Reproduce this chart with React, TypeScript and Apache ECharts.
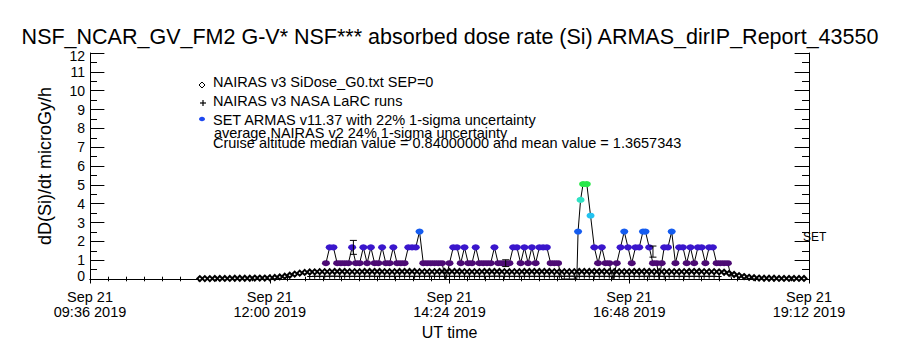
import React, { useEffect, useRef } from "react";
import * as echarts from "echarts";

// ---------- texts ----------
const titleText =
  "NSF_NCAR_GV_FM2 G-V* NSF*** absorbed dose rate (Si) ARMAS_dirIP_Report_43550";
const yAxisTitle = "dD(Si)/dt microGy/h";
const xAxisTitle = "UT time";
const rightLabel = "SET";
const legendLabels = [
  "NAIRAS v3 SiDose_G0.txt SEP=0",
  "NAIRAS v3 NASA LaRC runs",
  "SET ARMAS v11.37 with 22% 1-sigma uncertainty",
];
const noteLines = [
  "average NAIRAS v2 24% 1-sigma uncertainty",
  "Cruise altitude median value = 0.84000000 and mean value = 1.3657343",
];

// ---------- axes (minutes of day) ----------
const xTickValues = [576, 720, 864, 1008, 1152];
const xTickLabels = [
  "Sep 21\n09:36 2019",
  "Sep 21\n12:00 2019",
  "Sep 21\n14:24 2019",
  "Sep 21\n16:48 2019",
  "Sep 21\n19:12 2019",
];

// ---------- NAIRAS model runs (minutes of day) ----------
const nairasTime = [
  664, 668, 672, 676, 680, 684, 688, 692, 696, 700,
  704, 708, 712, 716, 720, 724, 728, 732, 736, 740,
  744, 748, 752, 756, 760, 764, 768, 772, 776, 780,
  784, 788, 792, 796, 800, 804, 808, 812, 816, 820,
  824, 828, 832, 836, 840, 844, 848, 852, 856, 860,
  864, 868, 872, 876, 880, 884, 888, 892, 896, 900,
  904, 908, 912, 916, 920, 924, 928, 932, 936, 940,
  944, 948, 952, 956, 960, 964, 968, 972, 976, 980,
  984, 988, 992, 996, 1000, 1004, 1008, 1012, 1016, 1020,
  1024, 1028, 1032, 1036, 1040, 1044, 1048, 1052, 1056, 1060,
  1064, 1068, 1072, 1076, 1080, 1084, 1088, 1092, 1096, 1100,
  1104, 1108, 1112, 1116, 1120, 1124, 1128, 1132, 1136, 1140,
  1144, 1148,
];
const nairasSiDose = [
  0.02, 0.02, 0.02, 0.03, 0.03, 0.03, 0.03, 0.04, 0.04, 0.04,
  0.04, 0.05, 0.05, 0.05, 0.06, 0.08, 0.11, 0.15, 0.2, 0.26,
  0.31, 0.35, 0.37, 0.38, 0.39, 0.39, 0.39, 0.4, 0.4, 0.4,
  0.39, 0.39, 0.39, 0.4, 0.4, 0.4, 0.4, 0.39, 0.39, 0.39,
  0.4, 0.4, 0.4, 0.4, 0.39, 0.39, 0.39, 0.39, 0.4, 0.4,
  0.4, 0.4, 0.4, 0.39, 0.39, 0.39, 0.39, 0.4, 0.4, 0.4,
  0.4, 0.39, 0.39, 0.39, 0.39, 0.4, 0.4, 0.4, 0.4, 0.4,
  0.4, 0.39, 0.39, 0.39, 0.39, 0.39, 0.4, 0.4, 0.4, 0.4,
  0.4, 0.4, 0.39, 0.39, 0.39, 0.39, 0.39, 0.4, 0.4, 0.4,
  0.4, 0.39, 0.39, 0.39, 0.39, 0.39, 0.39, 0.39, 0.4, 0.4,
  0.4, 0.39, 0.39, 0.39, 0.38, 0.36, 0.3, 0.24, 0.18, 0.13,
  0.09, 0.07, 0.05, 0.04, 0.04, 0.04, 0.03, 0.03, 0.03, 0.03,
  0.03, 0.03,
];
const nairasLaRC = [
  null, null, null, null, null, null, null, null, null, null,
  null, null, null, null, null, null, null, null, null, null,
  null, null, 0.13, 0.14, 0.14, 0.14, 0.15, 0.15, 0.14, 0.14,
  0.14, 0.14, 0.14, 0.14, 0.15, 0.14, 0.14, 0.14, 0.14, 0.14,
  0.14, 0.14, 0.14, 0.14, 0.14, 0.14, 0.15, 0.14, 0.14, 0.14,
  0.14, 0.14, 0.14, 0.14, 0.14, 0.14, 0.14, 0.14, 0.14, 0.15,
  0.15, 0.14, 0.14, 0.14, 0.14, 0.14, 0.14, 0.14, 0.14, 0.14,
  0.14, 0.14, 0.14, 0.14, 0.15, 0.15, 0.14, 0.14, 0.14, 0.14,
  0.14, 0.14, 0.14, 0.14, 0.14, 0.14, 0.14, 0.14, 0.14, 0.14,
  0.15, 0.14, 0.14, 0.14, 0.14, 0.14, 0.14, 0.14, 0.14, 0.14,
  0.14, 0.14, 0.14, 0.14, 0.13, null, null, null, null, null,
  null, null, null, null, null, null, null, null, null, null,
  null, null,
];

// ---------- ARMAS measurements (minutes of day, microGy/h) ----------
const armasTime = [
  765, 768, 771, 774, 777, 780, 783, 786, 789, 792,
  795, 798, 801, 804, 807, 810, 813, 816, 819, 822,
  825, 828, 831, 834, 837, 840, 843, 846, 849, 852,
  855, 858, 861, 864, 867, 870, 873, 876, 879, 882,
  885, 888, 891, 894, 897, 900, 903, 906, 909, 912,
  915, 918, 921, 924, 927, 930, 933, 936, 939, 942,
  945, 948, 951, 954, 957, 960, 963, 966,
  967, 969, 971, 974, 977,
  980, 983, 986, 989, 992, 995, 998, 1001, 1004, 1007, 1010, 1013, 1016, 1019,
  1021, 1024, 1027, 1030,
  1032, 1034,
  1036, 1039, 1042, 1045, 1048, 1051, 1054, 1057, 1060, 1063,
  1066, 1069, 1072, 1075, 1078, 1081, 1084, 1087, 1090,
];
const armasDose = [
  0.84, 1.68, 1.68, 0.84, 0.84, 0.84, 0.84, 1.68, 0.84, 0.84,
  1.68, 0.84, 1.68, 0.84, 0.84, 1.68, 0.84, 0.84, 1.68, 0.84,
  0.84, 0.84, 1.68, 1.68, 1.68, 2.52, 0.84, 0.84, 0.84, 0.84,
  0.84, 0.84, 0, 0.84, 1.68, 1.68, 0.84, 1.68, 0.84, 0.84,
  1.68, 0.84, 0.84, 0.84, 0.84, 1.68, 0.84, 0.84, 0.84, 0.84,
  1.68, 1.68, 0.84, 1.68, 0.84, 1.68, 0.84, 1.68, 1.68, 1.68,
  0.84, 0.84, 0.84, 0, 0, 0, 0, 0,
  2.52, 4.2, 5.04, 5.04, 3.36,
  1.68, 0.84, 1.68, 0.84, 0.84, 0, 0.84, 1.68, 2.52, 1.68, 0.84, 1.68, 1.68, 2.52,
  2.52, 1.68, 0.84, 0.84,
  0, 0.84,
  1.68, 1.68, 2.52, 0.84, 1.68, 1.68, 0.84, 1.68, 0.84, 1.68,
  1.68, 0.84, 1.68, 1.68, 0.84, 0.84, 0.84, 0.84, 0,
];

// ---------- uncertainty bars ----------
const errTime = [787, 909, 1027];
const errLow = [1.31, 0.66, 1.16];
const errHigh = [2.05, 1.02, 1.75];

const FONT = "'Liberation Sans', Arial, sans-serif";

function doseColor(v: number): string {
  if (v < 0.1) return "#000000";
  if (v < 1.2) return "#4c0a74";
  if (v < 2.0) return "#3a16cc";
  if (v < 3.0) return "#145cf0";
  if (v < 3.8) return "#22c2f0";
  if (v < 4.6) return "#30e2c4";
  return "#2ae84a";
}

export default function App() {
  const ref = useRef<HTMLDivElement>(null);

  useEffect(() => {
    document.body.style.margin = "0";
    if (!ref.current) return;
    const chart = echarts.init(ref.current, undefined, { renderer: "svg" });

    const xCommon = {
      type: "value",
      min: 576,
      max: 1152,
      interval: 144,
      splitLine: { show: false },
      axisLine: { show: true, lineStyle: { color: "#000", width: 1 } },
      axisTick: { show: true, inside: true, length: 4.5, lineStyle: { color: "#000" } },
      minorTick: { show: true, splitNumber: 10, length: 2.3, lineStyle: { color: "#000" } },
    };
    const yCommon = {
      type: "value",
      min: 0,
      max: 12,
      interval: 1,
      splitLine: { show: false },
      axisLine: { show: true, lineStyle: { color: "#000", width: 1 } },
      axisTick: { show: true, inside: true, length: 14.4, lineStyle: { color: "#000" } },
      minorTick: { show: true, splitNumber: 2, length: 7, lineStyle: { color: "#000" } },
    };

    const text = (x: number, y: number, s: string, size: number) => ({
      type: "text",
      x,
      y,
      style: {
        text: s,
        fontSize: size,
        fontFamily: FONT,
        fill: "#000",
        align: "left",
        verticalAlign: "middle",
      },
    });

    const option: any = {
      animation: false,
      backgroundColor: "#ffffff",
      textStyle: { fontFamily: FONT },
      title: {
        text: titleText,
        left: "center",
        top: 26,
        padding: 0,
        textStyle: { fontSize: 21.5, fontWeight: "normal", color: "#000", fontFamily: FONT },
      },
      grid: { left: 90, right: 91, top: 53, bottom: 71, outerBoundsMode: "none" },
      xAxis: [
        {
          ...xCommon,
          position: "bottom",
          name: xAxisTitle,
          nameLocation: "middle",
          nameGap: 45,
          nameTextStyle: { fontSize: 16, color: "#000", fontFamily: FONT },
          axisLabel: {
            show: true,
            margin: 10,
            fontSize: 14.5,
            lineHeight: 15,
            color: "#000",
            fontFamily: FONT,
            showMinLabel: true,
            showMaxLabel: true,
            formatter: (v: number) => {
              const i = xTickValues.indexOf(v);
              return i >= 0 ? xTickLabels[i] : "";
            },
          },
        },
        { ...xCommon, position: "top", axisLabel: { show: false } },
      ],
      yAxis: [
        {
          ...yCommon,
          position: "left",
          name: yAxisTitle,
          nameLocation: "middle",
          nameRotate: 90,
          nameGap: 36.5,
          nameTextStyle: { fontSize: 18, color: "#000", fontFamily: FONT },
          axisLabel: {
            show: true,
            margin: 5,
            fontSize: 14,
            color: "#000",
            fontFamily: FONT,
            showMinLabel: true,
            showMaxLabel: true,
            formatter: (v: number) =>
              v === 0 ? "{lo|0}" : v === 12 ? "{hi|12}" : String(v),
            rich: {
              lo: { fontSize: 14, fontFamily: FONT, color: "#000", padding: [0, 0, 6, 0] },
              hi: { fontSize: 14, fontFamily: FONT, color: "#000", padding: [6, 0, 0, 0] },
            },
          },
        },
        { ...yCommon, position: "right", axisLabel: { show: false } },
      ],
      series: [
        {
          name: legendLabels[0],
          type: "line",
          xAxisIndex: 0,
          yAxisIndex: 0,
          data: nairasTime.map((t, i) => [t, nairasSiDose[i]]),
          symbol: "emptyDiamond",
          symbolSize: 5,
          showAllSymbol: true,
          lineStyle: { color: "#000", width: 1 },
          itemStyle: { color: "#000", borderColor: "#000", borderWidth: 1 },
          emphasis: { disabled: true },
          z: 2,
        },
        {
          name: legendLabels[1],
          type: "line",
          xAxisIndex: 0,
          yAxisIndex: 0,
          data: nairasTime.map((t, i) => [t, nairasLaRC[i]]),
          connectNulls: false,
          symbol: "path://M2,0H3V2H5V3H3V5H2V3H0V2H2Z",
          symbolSize: 5,
          showAllSymbol: true,
          lineStyle: { color: "#000", width: 1 },
          itemStyle: { color: "#000", borderWidth: 0 },
          emphasis: { disabled: true },
          z: 2,
        },
        {
          name: legendLabels[2],
          type: "line",
          xAxisIndex: 0,
          yAxisIndex: 0,
          data: armasTime.map((t, i) => [t, armasDose[i]]),
          symbol: "circle",
          symbolSize: (val: number[]) => (val[1] < 0.1 ? 0 : [8, 6]),
          showAllSymbol: true,
          lineStyle: { color: "#000", width: 1 },
          itemStyle: {
            color: (p: any) => doseColor(p.value[1]),
            borderWidth: 0,
          },
          emphasis: { disabled: true },
          z: 3,
        },
        {
          name: "uncertainty",
          type: "custom",
          xAxisIndex: 0,
          yAxisIndex: 0,
          data: errTime.map((t, i) => [t, errLow[i], errHigh[i]]),
          encode: { x: 0, y: [1, 2] },
          renderItem: (params: any, api: any) => {
            const lo = api.coord([api.value(0), api.value(1)]);
            const hi = api.coord([api.value(0), api.value(2)]);
            const w = 3.5;
            const st = { stroke: "#000", lineWidth: 1 };
            return {
              type: "group",
              children: [
                { type: "line", shape: { x1: lo[0], y1: lo[1], x2: hi[0], y2: hi[1] }, style: st },
                { type: "line", shape: { x1: lo[0] - w, y1: lo[1], x2: lo[0] + w, y2: lo[1] }, style: st },
                { type: "line", shape: { x1: hi[0] - w, y1: hi[1], x2: hi[0] + w, y2: hi[1] }, style: st },
              ],
            };
          },
          z: 4,
        },
      ],
      graphic: [
        {
          type: "polygon",
          shape: { points: [[202, 82], [205, 85], [202, 88], [199, 85]] },
          style: { fill: "#fff", stroke: "#000", lineWidth: 1 },
        },
        { type: "line", shape: { x1: 200, y1: 103, x2: 206, y2: 103 }, style: { stroke: "#000", lineWidth: 1.2 } },
        { type: "line", shape: { x1: 203, y1: 100, x2: 203, y2: 106 }, style: { stroke: "#000", lineWidth: 1.2 } },
        { type: "ellipse", shape: { cx: 202, cy: 119, rx: 3, ry: 2.3 }, style: { fill: "#1e48f0" } },
        text(213, 82, legendLabels[0], 14.5),
        text(213, 101, legendLabels[1], 14.5),
        text(213, 120, legendLabels[2], 14.5),
        text(214, 133, noteLines[0], 14.5),
        text(213, 143, noteLines[1], 14.5),
        text(803, 237, rightLabel, 12),
      ],
    };

    chart.setOption(option);
    return () => chart.dispose();
  }, []);

  return (
    <div
      ref={ref}
      style={{ position: "absolute", left: 0, top: 0, width: 900, height: 350, background: "#fff" }}
    />
  );
}
